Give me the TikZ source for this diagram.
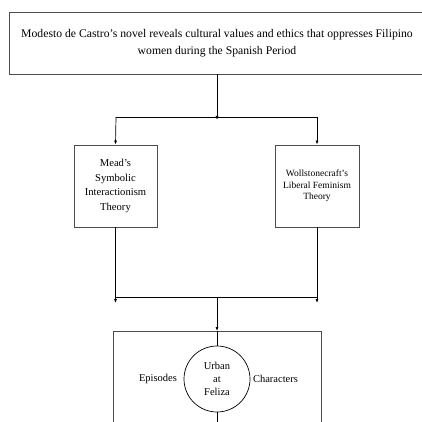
\documentclass[tikz,border=0pt]{standalone}
\usepackage{fontspec}
\setmainfont{Liberation Serif}
\usetikzlibrary{arrows.meta}

\tikzset{
  box/.style={draw=black!70, line width=0.8pt, align=center, inner sep=2pt},
  link/.style={line width=0.7pt},
  tip/.style={link, -{Latex[length=4pt,width=3pt]}}
}

\begin{document}
\begin{tikzpicture}[x=1pt, y=-1pt]
\clip (0,0) rectangle (422,422);
\fill[white] (0,0) rectangle (422,422);

\node[box, minimum width=416pt, minimum height=62pt, font=\fontsize{11.7}{17}\selectfont]
  (thesis) at (217,43)
  {Modesto de Castro's novel reveals cultural values and ethics that oppresses Filipino\\
   women during the Spanish Period};

\node[box, minimum width=83pt, minimum height=82pt, font=\fontsize{10.6}{14.5}\selectfont]
  (mead) at (115.5,186) {Mead's\\Symbolic\\Interactionism\\Theory};
\node[box, minimum width=84pt, minimum height=82pt, font=\fontsize{9.5}{11.5}\selectfont]
  (woll) at (317,186) {Wollstonecraft's\\Liberal Feminism\\Theory};

\node[box, anchor=north, minimum width=208pt, minimum height=120pt] (novel) at (217,331) {};
\node[draw, circle, line width=0.7pt, minimum size=66pt, inner sep=0pt,
  font=\fontsize{10.5}{12.7}\selectfont, align=center] (urban) at (217,379) {Urban\\at\\Feliza};
\node[font=\fontsize{10.5}{12}\selectfont] (episodes) at (158,379) {Episodes};
\node[font=\fontsize{10.5}{12}\selectfont] (characters) at (275.5,379) {Characters};

\coordinate (split) at (217,120);
\coordinate (splitL) at (116,117);
\coordinate (splitR) at (317,117);
\coordinate (joinL) at (115.5,297);
\coordinate (joinR) at (317,297);
\coordinate (join) at (217,297);
\coordinate (endL) at (115.5,303);
\coordinate (endR) at (317,303);
\coordinate (bottom) at (217,430);

\draw[tip] (thesis.south -| split) -- (split);
\draw[link] (splitL) -- (splitR);
\draw[tip] (splitL) -- (mead.north);
\draw[tip] (splitR) -- (woll.north);

\draw[tip] (mead.south) -- (endL);
\draw[tip] (woll.south) -- (endR);
\draw[link] (joinL) -- (joinR);
\draw[tip] (join) -- (novel.north);

\draw[link] (novel.north) -- (urban.north);
\draw[link] (urban.south) -- (bottom);
\end{tikzpicture}
\end{document}
